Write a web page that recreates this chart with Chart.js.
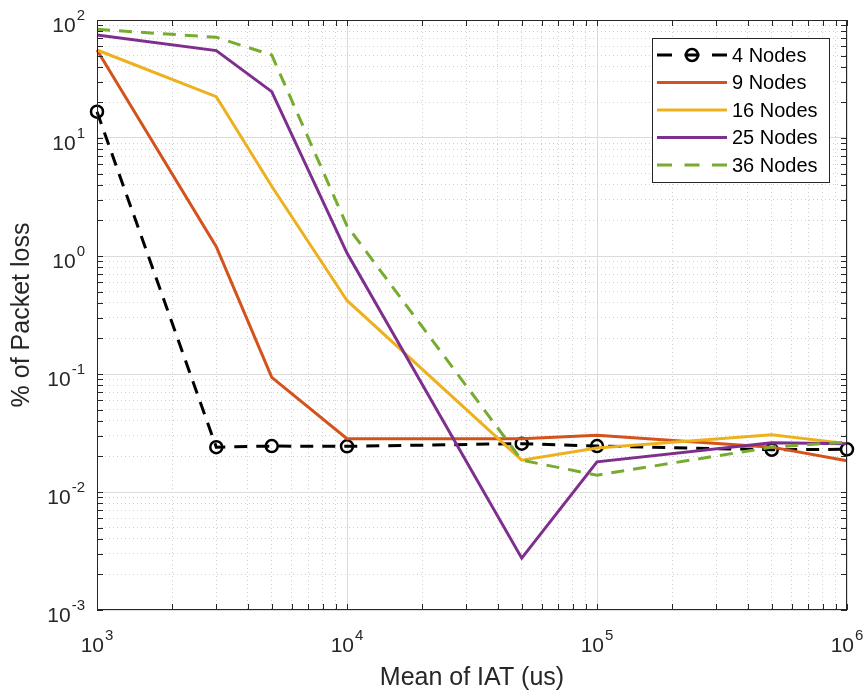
<!DOCTYPE html>
<html>
<head>
<meta charset="utf-8">
<title>Packet loss vs mean IAT</title>
<script src="https://cdn.jsdelivr.net/npm/chart.js@4.4.1/dist/chart.umd.min.js"></script>
<style>
  html, body { margin: 0; padding: 0; background: #fff; }
  canvas { display: block; }
</style>
</head>
<body>
<canvas id="lossChart" width="868" height="696"></canvas>
<script>
// Mean inter-arrival time (us)
const iat = [1e3, 3e3, 5e3, 1e4, 5e4, 1e5, 5e5, 1e6];

// % of packet loss per network size
const nodes4  = [16.7, 0.024, 0.0245, 0.0244, 0.0257, 0.0245, 0.0228, 0.023];
const nodes9  = [55.7, 1.2, 0.0935, 0.0283, 0.0283, 0.0302, 0.024, 0.0184];
const nodes16 = [55.7, 22.4, 3.9, 0.42, 0.0186, 0.0236, 0.0306, 0.0257];
const nodes25 = [74.6, 55, 24.7, 1.06, 0.00275, 0.018, 0.0262, 0.0257];
const nodes36 = [83.4, 71.3, 50.5, 1.8, 0.0186, 0.0139, 0.024, 0.0265];

const seriesLabels = ['4 Nodes', '9 Nodes', '16 Nodes', '25 Nodes', '36 Nodes'];

// decade exponents used for tick labels (10^n)
const xDecades = [3, 4, 5, 6];
const yDecades = [-3, -2, -1, 0, 1, 2];

const TEXT = '#262626';
const FONT = '"Liberation Sans", Arial, sans-serif';

function decadeTicks(decades) {
    const ticks = [];
    for (let i = 0; i < decades.length; i++) {
        const base = Math.pow(10, decades[i]);
        ticks.push({ value: base, major: true });
        if (i < decades.length - 1) {
            for (let m = 2; m <= 9; m++) ticks.push({ value: m * base, major: false });
        }
    }
    return ticks;
}

function isDecade(v) {
    const l = Math.log10(v);
    return Math.abs(l - Math.round(l)) < 1e-9;
}

function toXY(values) {
    return values.map((v, i) => ({ x: iat[i], y: v }));
}

// 10^n label with a raised exponent
function drawPow(ctx, exp, x, baseY, align) {
    const base = '10';
    const sup = String(exp);
    ctx.font = '21px ' + FONT;
    const wb = ctx.measureText(base).width;
    ctx.font = '15px ' + FONT;
    const ws = ctx.measureText(sup).width;
    const total = wb + 1 + ws;
    let left = align === 'right' ? x - total : x - total / 2;
    ctx.fillStyle = TEXT;
    ctx.textBaseline = 'alphabetic';
    ctx.textAlign = 'left';
    ctx.font = '21px ' + FONT;
    ctx.fillText(base, left, baseY);
    ctx.font = '15px ' + FONT;
    ctx.fillText(sup, left + wb + 1, baseY - 12);
}

const frameAndLabels = {
    id: 'frameAndLabels',
    afterDraw(chart) {
        const { ctx, chartArea: a, scales: { x, y } } = chart;
        ctx.save();

        // box + inward ticks
        ctx.strokeStyle = TEXT;
        ctx.lineWidth = 1;
        ctx.setLineDash([]);
        ctx.strokeRect(a.left + 0.5, a.top + 0.5, a.right - a.left - 1, a.bottom - a.top - 1);
        const tl = 6;
        ctx.beginPath();
        x.ticks.forEach(t => {
            const px = Math.round(x.getPixelForValue(t.value)) + 0.5;
            ctx.moveTo(px, a.bottom); ctx.lineTo(px, a.bottom - tl);
            ctx.moveTo(px, a.top); ctx.lineTo(px, a.top + tl);
        });
        y.ticks.forEach(t => {
            const py = Math.round(y.getPixelForValue(t.value)) + 0.5;
            ctx.moveTo(a.left, py); ctx.lineTo(a.left + tl, py);
            ctx.moveTo(a.right, py); ctx.lineTo(a.right - tl, py);
        });
        ctx.stroke();

        // tick labels
        xDecades.forEach(e => {
            const px = x.getPixelForValue(Math.pow(10, e));
            drawPow(ctx, e, px, a.bottom + 42, 'center');
        });
        yDecades.forEach(e => {
            const py = y.getPixelForValue(Math.pow(10, e));
            drawPow(ctx, e, a.left - 12, py + 12, 'right');
        });

        // legend
        const lx = 652, ly = 38, lw = 177, lh = 144;
        ctx.fillStyle = '#fff';
        ctx.fillRect(lx, ly, lw, lh);
        ctx.strokeStyle = TEXT;
        ctx.lineWidth = 1;
        ctx.strokeRect(lx + 0.5, ly + 0.5, lw, lh);
        chart.data.datasets.forEach((ds, i) => {
            const ry = 55 + i * 27.5;
            const x0 = 657, x1 = 727;
            ctx.strokeStyle = ds.borderColor;
            ctx.lineWidth = ds.borderWidth;
            ctx.setLineDash(ds.borderDash && ds.borderDash.length ? [15, 12.5] : []);
            ctx.beginPath();
            ctx.moveTo(x0, ry);
            ctx.lineTo(x1, ry);
            ctx.stroke();
            ctx.setLineDash([]);
            if (ds.pointRadius > 0) {
                ctx.lineWidth = ds.pointBorderWidth;
                ctx.beginPath();
                ctx.arc((x0 + x1) / 2, ry, ds.pointRadius, 0, Math.PI * 2);
                ctx.stroke();
            }
            ctx.fillStyle = '#000';
            ctx.font = '20px ' + FONT;
            ctx.textBaseline = 'middle';
            ctx.textAlign = 'left';
            ctx.fillText(ds.label, 732, ry + 1);
        });

        ctx.restore();
    }
};

function gridColor(c) {
    return c.tick && isDecade(c.tick.value) ? '#dcdcdc' : '#cfcfcf';
}
function gridDash(c) {
    return c.tick && !isDecade(c.tick.value) ? [1, 3] : [];
}

const ctx = document.getElementById('lossChart').getContext('2d');
new Chart(ctx, {
    type: 'line',
    data: {
        datasets: [{
            label: seriesLabels[0],
            data: toXY(nodes4),
            borderColor: '#000000',
            borderWidth: 3,
            borderDash: [13, 9],
            pointRadius: 6,
            pointBorderWidth: 2.5,
            pointBorderColor: '#000000',
            pointBackgroundColor: 'rgba(0,0,0,0)',
            order: 5
        }, {
            label: seriesLabels[1],
            data: toXY(nodes9),
            borderColor: '#D4521C',
            borderWidth: 3,
            pointRadius: 0,
            order: 4
        }, {
            label: seriesLabels[2],
            data: toXY(nodes16),
            borderColor: '#EDB120',
            borderWidth: 3,
            pointRadius: 0,
            order: 3
        }, {
            label: seriesLabels[3],
            data: toXY(nodes25),
            borderColor: '#7E2F8E',
            borderWidth: 3,
            pointRadius: 0,
            order: 2
        }, {
            label: seriesLabels[4],
            data: toXY(nodes36),
            borderColor: '#77AC30',
            borderWidth: 3,
            borderDash: [13, 9],
            pointRadius: 0,
            order: 1
        }]
    },
    options: {
        responsive: false,
        animation: false,
        devicePixelRatio: 1,
        clip: false,
        layout: { padding: { top: 20, right: 21, left: 0, bottom: 0 } },
        plugins: {
            legend: { display: false },
            tooltip: { enabled: false }
        },
        elements: { line: { tension: 0 } },
        scales: {
            x: {
                type: 'logarithmic',
                min: 1e3,
                max: 1e6,
                afterBuildTicks: s => { s.ticks = decadeTicks(xDecades); },
                afterFit: s => { s.height = 86; },
                ticks: { display: false },
                grid: { color: gridColor, lineWidth: 1, drawTicks: false },
                border: { display: false, dash: gridDash },
                title: {
                    display: true,
                    text: 'Mean of IAT (us)',
                    color: TEXT,
                    font: { family: FONT, size: 25 },
                    padding: { top: 0, bottom: 3 }
                }
            },
            y: {
                type: 'logarithmic',
                min: 1e-3,
                max: 1e2,
                afterBuildTicks: s => { s.ticks = decadeTicks(yDecades); },
                afterFit: s => { s.width = 97; },
                ticks: { display: false },
                grid: { color: gridColor, lineWidth: 1, drawTicks: false },
                border: { display: false, dash: gridDash },
                title: {
                    display: true,
                    text: '% of Packet loss',
                    color: TEXT,
                    font: { family: FONT, size: 25 },
                    padding: { top: 7, bottom: 0 }
                }
            }
        }
    },
    plugins: [frameAndLabels]
});
</script>
</body>
</html>
